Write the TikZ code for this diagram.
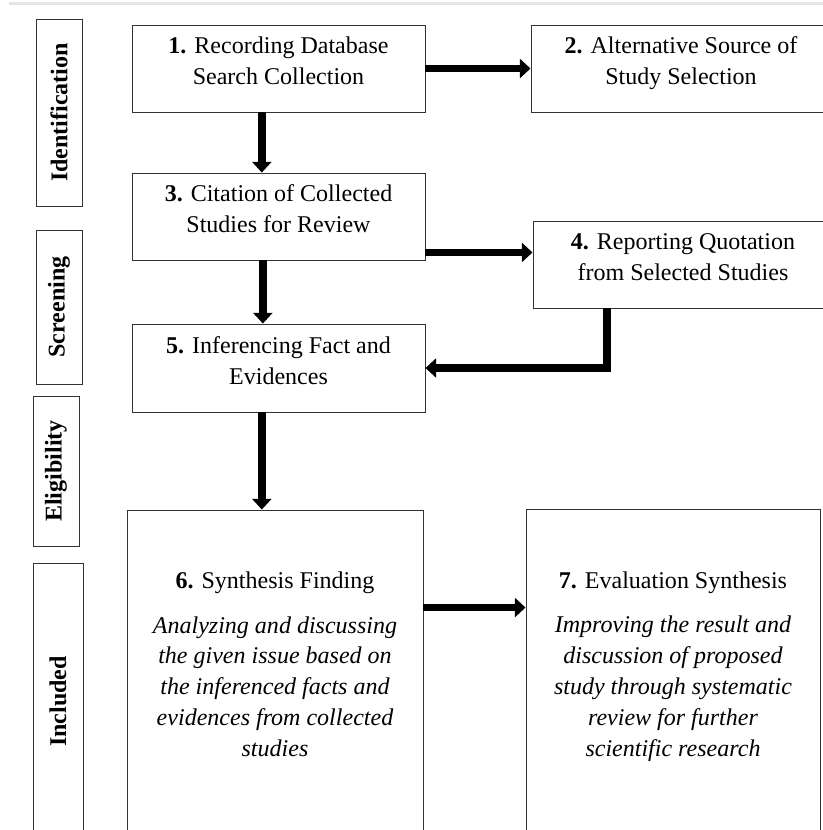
\documentclass[tikz,border=0pt]{standalone}
\usepackage{fontspec}
\setmainfont{Liberation Serif}
\usetikzlibrary{arrows.meta}

\tikzset{
  frame/.style={draw=black!80, line width=0.8pt, align=center, inner sep=2pt},
  box/.style={frame, text depth=13pt, font=\fontsize{20.5}{26.4}\selectfont},
  side/.style={frame, rotate=90, font=\bfseries\fontsize{20.5}{26.4}\selectfont},
  arr/.style={line width=6.5pt, -{Triangle[width=16pt,length=9pt]}}
}

\begin{document}
\begin{tikzpicture}[x=0.03cm, y=-0.03cm]
    \clip (0,0) rectangle (823,830);
    \fill[black!10] (9,2) rectangle (823,5);

    % 段階ラベル
    \node[side, minimum width=5.61cm, minimum height=1.38cm] (ident) at (59, 112.5) {Identification};
    \node[side, minimum width=4.62cm, minimum height=1.38cm] (screen) at (59, 307) {Screening};
    \node[side, minimum width=4.5cm, minimum height=1.38cm] (elig) at (56, 471) {Eligibility};
    \node[side, minimum width=8.31cm, minimum height=1.5cm] (incl) at (58, 701.5) {Included};

    % ノードの定義
    \node[box, minimum width=8.79cm, minimum height=2.61cm] (b1) at (278.5, 68.5) {\textbf{1.} Recording Database\\Search Collection};
    \node[box, minimum width=9cm, minimum height=2.61cm] (b2) at (681, 68.5) {\textbf{2.} Alternative Source of\\Study Selection};
    \node[box, minimum width=8.79cm, minimum height=2.61cm] (b3) at (278.5, 216.5) {\textbf{3.} Citation of Collected\\Studies for Review};
    \node[box, minimum width=9cm, minimum height=2.61cm] (b4) at (683, 264.5) {\textbf{4.} Reporting Quotation\\from Selected Studies};
    \node[box, minimum width=8.79cm, minimum height=2.64cm] (b5) at (278.5, 368) {\textbf{5.} Inferencing Fact and\\Evidences};
    \node[box, minimum width=8.88cm, minimum height=9.72cm] (b6) at (275, 672) {\textbf{6.} Synthesis Finding\\[4mm]
      \itshape Analyzing and discussing\\\itshape the given issue based on\\\itshape the inferenced facts and\\\itshape evidences from collected\\\itshape studies};
    \node[box, minimum width=8.82cm, minimum height=9.75cm] (b7) at (673, 671.5) {\textbf{7.} Evaluation Synthesis\\[4mm]
      \itshape Improving the result and\\\itshape discussion of proposed\\\itshape study through systematic\\\itshape review for further\\\itshape scientific research};

    % 矢印を引く
    \coordinate (a13) at ([xshift=-0.5cm]b1.south);
    \coordinate (a35) at ([xshift=-0.47cm]b3.south);
    \coordinate (a56) at ([xshift=-0.5cm]b5.south);
    \coordinate (a34) at ([yshift=0.24cm]b3.south east);
    \coordinate (a45) at ([xshift=-2.28cm]b4.south);
    \coordinate (a67) at ([yshift=-2.94cm]b6.north east);
    \draw[arr] (b1.east) -- (b2.west);
    \draw[arr] (a13) -- (a13 |- b3.north);
    \draw[arr] (a34) -- (a34 -| b4.west);
    \draw[arr] (a35) -- (a35 |- b5.north);
    \draw[arr] (a45) |- (b5.east);
    \draw[arr] (a56) -- (a56 |- b6.north);
    \draw[arr] (a67) -- (a67 -| b7.west);

  \end{tikzpicture}
\end{document}
